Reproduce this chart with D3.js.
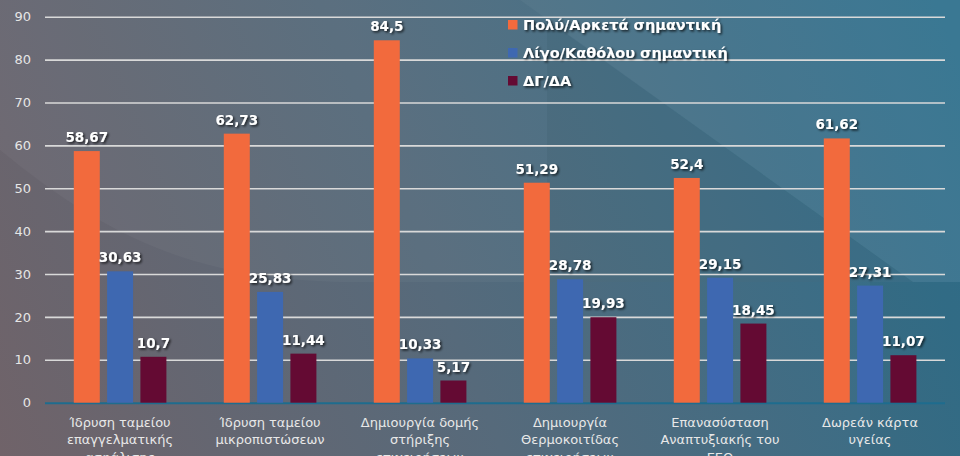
<!DOCTYPE html>
<html>
<head>
<meta charset="utf-8">
<script src="https://cdn.jsdelivr.net/npm/d3@7"></script>
<style>
  html, body { margin: 0; padding: 0; background: #55697a; }
  svg { display: block; }
</style>
</head>
<body>
<svg id="chart" width="960" height="456"></svg>
<script>
// ---- data ----
const categories = [
  ["Ίδρυση ταμείου", "επαγγελματικής", "ασφάλισης"],
  ["Ίδρυση ταμείου", "μικροπιστώσεων"],
  ["Δημιουργία δομής", "στήριξης", "επιχειρήσεων"],
  ["Δημιουργία", "Θερμοκοιτίδας", "επιχειρήσεων"],
  ["Επανασύσταση", "Αναπτυξιακής του", "ΕΕΘ"],
  ["Δωρεάν κάρτα", "υγείας"]
];
const seriesNames = ["Πολύ/Αρκετά σημαντική", "Λίγο/Καθόλου σημαντική", "ΔΓ/ΔΑ"];
const seriesMuch   = [58.67, 62.73, 84.5, 51.29, 52.4, 61.62];
const seriesLittle = [30.63, 25.83, 10.33, 28.78, 29.15, 27.31];
const seriesDK     = [10.7, 11.44, 5.17, 19.93, 18.45, 11.07];
const yTicks = [0, 10, 20, 30, 40, 50, 60, 70, 80, 90];
const seriesColors = ["#f26a3d", "#3e68b1", "#640a33"];

const seriesValues = [seriesMuch, seriesLittle, seriesDK];
const catKeys = categories.map((c, i) => i);

const svg = d3.select("#chart");
const W = 960, H = 456;

// ---- background ----
const defs = svg.append("defs");
const bg = defs.append("linearGradient").attr("id", "bg")
  .attr("gradientUnits", "userSpaceOnUse")
  .attr("x1", 0).attr("y1", 456).attr("x2", 960).attr("y2", 60);
bg.append("stop").attr("offset", "0%").attr("stop-color", "#706369");
bg.append("stop").attr("offset", "45%").attr("stop-color", "#566a7b");
bg.append("stop").attr("offset", "100%").attr("stop-color", "#2c6f8c");

const sh = defs.append("filter").attr("id", "shadow")
  .attr("x", "-20%").attr("y", "-40%").attr("width", "140%").attr("height", "180%");
sh.append("feDropShadow").attr("dx", 1.5).attr("dy", 1.5).attr("stdDeviation", 1)
  .attr("flood-color", "#000").attr("flood-opacity", 0.75);

svg.append("rect").attr("width", W).attr("height", H).attr("fill", "url(#bg)");
// decorative translucent shapes
svg.append("path").attr("d", "M0,150 C110,240 200,282 360,282 L960,282 L960,0 L0,0 Z")
  .attr("fill", "#ffffff").attr("opacity", 0.035);
svg.append("path").attr("d", "M547,20 L913,282 L547,282 Z")
  .attr("fill", "#0a2a3a").attr("opacity", 0.07);
svg.append("path").attr("d", "M520,0 L960,0 L960,282 L913,282 Z")
  .attr("fill", "#ffffff").attr("opacity", 0.035);
svg.append("path").attr("d", "M870,282 L960,282 L960,456 L870,456 Z")
  .attr("fill", "#0a2a3a").attr("opacity", 0.04);

// ---- scales ----
const y = d3.scaleLinear().domain([0, 90]).range([402.7, 16.7]);
const x0 = d3.scaleBand().domain(catKeys).range([45, 945]).padding(0);
const x1 = d3.scaleBand().domain(d3.range(seriesNames.length))
  .range([28.8, 121.4]).paddingInner(0.22).paddingOuter(0);

// ---- gridlines + y axis ----
const yAxis = d3.axisLeft(y).tickValues(yTicks).tickSizeInner(-900).tickSizeOuter(0)
  .tickPadding(14).tickFormat(d => d);
const ga = svg.append("g").attr("transform", "translate(45,0)").call(yAxis);
ga.select(".domain").remove();
ga.selectAll(".tick line")
  .attr("stroke", d => d === 0 ? "#1e6c8e" : "#d9d9d9")
  .attr("stroke-width", d => d === 0 ? 2 : 1.6);
ga.selectAll(".tick text")
  .attr("fill", "#e6e6e6")
  .attr("font-family", "DejaVu Sans, sans-serif")
  .attr("font-size", 13);

// ---- bars ----
const groups = svg.append("g").selectAll("g").data(catKeys).join("g")
  .attr("transform", d => `translate(${x0(d)},0)`);
groups.selectAll("rect")
  .data(ci => seriesValues.map((vals, si) => ({ si, v: vals[ci] })))
  .join("rect")
  .attr("x", d => x1(d.si))
  .attr("width", x1.bandwidth())
  .attr("y", d => y(d.v))
  .attr("height", d => y(0) - y(d.v))
  .attr("fill", d => seriesColors[d.si]);

// value labels
groups.selectAll("text.val")
  .data(ci => seriesValues.map((vals, si) => ({ si, v: vals[ci] })))
  .join("text").attr("class", "val")
  .attr("x", d => x1(d.si) + x1.bandwidth() / 2)
  .attr("y", d => y(d.v) - 9)
  .attr("text-anchor", "middle")
  .attr("fill", "#ffffff")
  .attr("font-family", "DejaVu Sans, sans-serif")
  .attr("font-weight", "bold")
  .attr("font-size", 13.5)
  .attr("filter", "url(#shadow)")
  .text(d => String(d.v).replace(".", ","));

// ---- category labels ----
const cl = svg.append("g").selectAll("text").data(catKeys).join("text")
  .attr("text-anchor", "middle")
  .attr("fill", "#e8e8e8")
  .attr("font-family", "DejaVu Sans, sans-serif")
  .attr("font-size", 13);
cl.selectAll("tspan").data(ci => categories[ci].map(t => ({ ci, t })))
  .join("tspan")
  .attr("x", d => x0(d.ci) + x0.bandwidth() / 2)
  .attr("y", (d, i) => 427 + i * 17.3)
  .text(d => d.t);

// ---- legend ----
const lg = svg.append("g").selectAll("g").data(seriesNames).join("g")
  .attr("transform", (d, i) => `translate(508,${20 + i * 28})`);
lg.append("rect").attr("width", 9.5).attr("height", 9.5)
  .attr("fill", (d, i) => seriesColors[i]);
lg.append("text").attr("x", 15).attr("y", 10)
  .attr("fill", "#ffffff")
  .attr("font-family", "DejaVu Sans, sans-serif")
  .attr("font-weight", "bold")
  .attr("font-size", 14.5)
  .attr("filter", "url(#shadow)")
  .text(d => d);
</script>
</body>
</html>
